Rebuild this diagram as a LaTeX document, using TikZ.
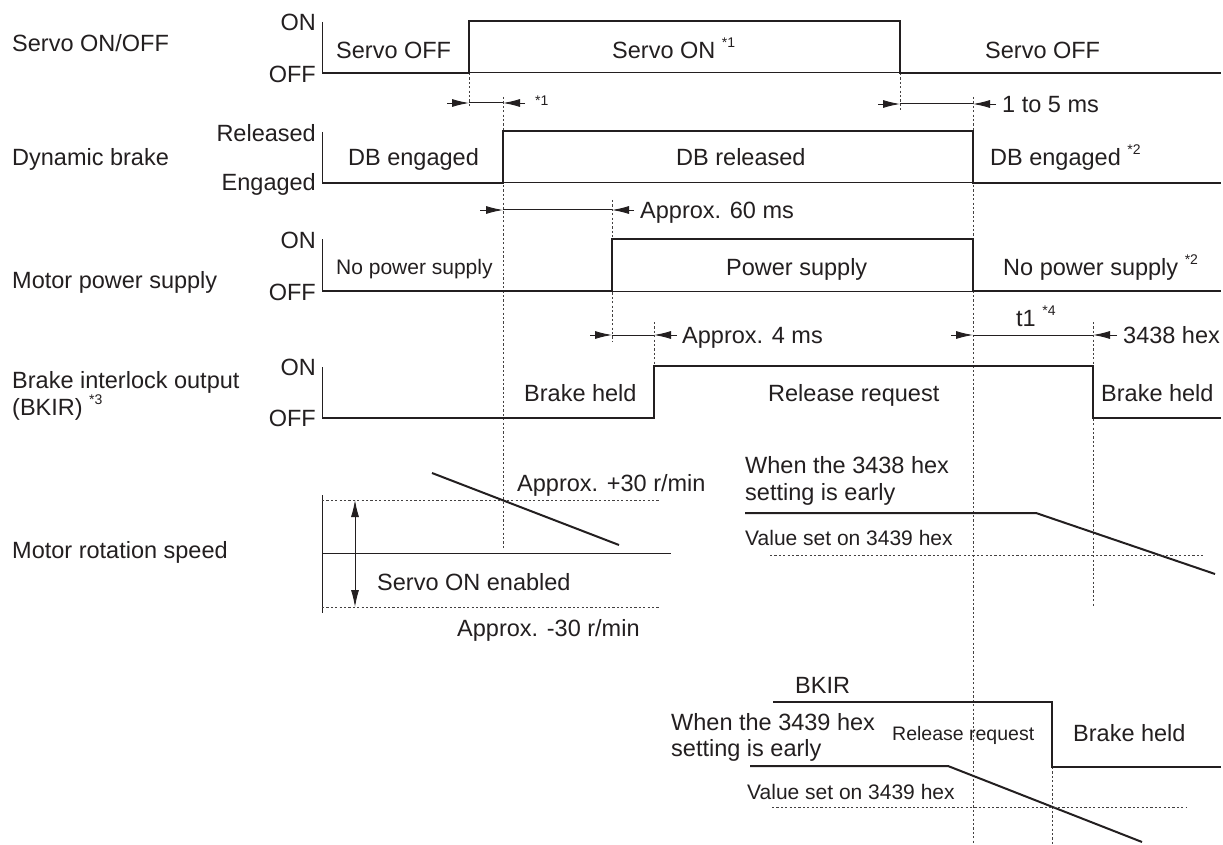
\documentclass[tikz,border=0pt]{standalone}
\usepackage{fontspec}
\setmainfont{Liberation Sans}
\usetikzlibrary{arrows.meta}
\definecolor{ink}{HTML}{231F20}
\newcommand\mfont{\fontsize{23.5}{28}\selectfont}
\newcommand\sfont{\fontsize{21}{25}\selectfont}
\newcommand\nfont{\fontsize{19.5}{24}\selectfont}
\newcommand\fnote[1]{\raisebox{11pt}{\fontsize{14}{14}\selectfont *#1}}
\begin{document}
\begin{tikzpicture}[x=1pt,y=-1pt,
  txt/.style={inner sep=0pt, text height=17pt, text depth=0pt, anchor=west, font=\mfont, text=ink},
  txtr/.style={txt, anchor=east},
  small/.style={txt, font=\sfont, text height=15pt},
  narrow/.style={txt, font=\nfont, text height=15pt},
  sig/.style={draw=ink, line width=2.4pt, line join=miter},
  thinl/.style={draw=ink, line width=1pt},
  guide/.style={draw=ink!85, line width=0.8pt, dash pattern=on 2.2pt off 2.2pt},
  dim/.style={draw=ink, line width=0.9pt, -{Latex[length=17pt,width=8pt]}},
  ramp/.style={draw=ink, line width=2pt},
  dbl/.style={draw=ink, line width=0.9pt, {Latex[length=17pt,width=8pt]}-{Latex[length=17pt,width=8pt]}}]
\useasboundingbox[fill=white] (0,0) rectangle (1223,845);

% ---------- guide lines (dotted) ----------
\draw[guide] (469,73) -- (469,108);
\draw[guide] (503,97) -- (503,548);
\draw[guide] (900,73) -- (900,110);
\draw[guide] (973,97) -- (973,845);
\draw[guide] (612,200) -- (612,342);
\draw[guide] (654,322) -- (654,366);
\draw[guide] (1093,322) -- (1093,607);
\draw[guide] (1052,767) -- (1052,845);

% ---------- left labels ----------
\node[txt] (lservo) at (12,43) {Servo ON/OFF};
\node[txt] (ldb) at (12,157) {Dynamic brake};
\node[txt] (lmp) at (12,280) {Motor power supply};
\node[txt] (lbk1) at (12,380) {Brake interlock output};
\node[txt] (lbk2) at (12,407) {(BKIR) \fnote{3}};
\node[txt] (lms) at (12,550) {Motor rotation speed};

% ---------- level labels ----------
\node[txtr] (on1) at (316,22) {ON};
\node[txtr] (off1) at (316,74) {OFF};
\node[txtr] (rel2) at (316,133) {Released};
\node[txtr] (eng2) at (316,182) {Engaged};
\node[txtr] (on3) at (316,240) {ON};
\node[txtr] (off3) at (316,292) {OFF};
\node[txtr] (on4) at (316,367) {ON};
\node[txtr] (off4) at (316,418) {OFF};

% ---------- axes & baselines ----------
\draw[thinl] (322,22) -- (322,73) -- (1221,73);
\draw[thinl] (322,132) -- (322,183) -- (1221,183);
\draw[thinl] (322,239) -- (322,291) -- (1221,291);
\draw[thinl] (322,367) -- (322,418);

% ---------- signals ----------
\draw[sig] (322,73) -- (469,73) -- (469,21) -- (900,21) -- (900,73) -- (1221,73);
\draw[sig] (322,183) -- (503,183) -- (503,131) -- (973,131) -- (973,183) -- (1221,183);
\draw[sig] (322,291) -- (612,291) -- (612,239) -- (973,239) -- (973,291) -- (1221,291);
\draw[sig] (322,418) -- (654,418) -- (654,366) -- (1093,366) -- (1093,418) -- (1221,418);

% ---------- state texts ----------
\node[txt] (s1a) at (336,50) {Servo OFF};
\node[txt] (s1b) at (612,50) {Servo ON \fnote{1}};
\node[txt] (s1c) at (985,50) {Servo OFF};
\node[txt] (s2a) at (348,157) {DB engaged};
\node[txt] (s2b) at (676,157) {DB released};
\node[txt] (s2c) at (990,157) {DB engaged \fnote{2}};
\node[small] (s3a) at (336,267) {No power supply};
\node[txt] (s3b) at (726,267) {Power supply};
\node[txt] (s3c) at (1003,267) {No power supply \fnote{2}};
\node[txt] (s4a) at (524,393) {Brake held};
\node[txt] (s4b) at (768,393) {Release request};
\node[txt] (s4c) at (1101,393) {Brake held};

% ---------- timing dimensions ----------
\draw[dim] (447,103) -- (469,103);
\draw[thinl] (469,103) -- (503,103);
\draw[dim] (525,103) -- (503,103);
\node[txt, font=\fontsize{14}{14}\selectfont, text height=10pt] (n1) at (535,101) {*1};

\draw[dim] (878,104) -- (900,104);
\draw[thinl] (900,104) -- (973,104);
\draw[dim] (996,104) -- (973,104);
\node[txt] (d1) at (1002,104) {1 to 5 ms};

\draw[dim] (480,210) -- (503,210);
\draw[thinl] (503,210) -- (612,210);
\draw[dim] (634,210) -- (612,210);
\node[txt] (d2) at (640,210) {Approx. 60 ms};

\draw[dim] (590,335) -- (612,335);
\draw[thinl] (612,335) -- (654,335);
\draw[dim] (677,335) -- (654,335);
\node[txt] (d3) at (682,335) {Approx. 4 ms};

\draw[dim] (951,335) -- (973,335);
\draw[thinl] (973,335) -- (1093,335);
\draw[dim] (1117,335) -- (1093,335);
\node[txt] (d4) at (1123,335) {3438 hex};
\node[txt] (t1) at (1016,318) {t1 \fnote{4}};

% ---------- motor rotation speed (left) ----------
\draw[thinl] (322,495) -- (322,613);
\draw[guide] (322,500) -- (660,500);
\draw[thinl] (322,553) -- (671,553);
\draw[guide] (322,607) -- (660,607);
\draw[dbl] (355,500) -- (355,607);
\draw[ramp] (432,473) -- (619,545);
\node[txt] (sp1) at (517,483) {Approx. +30 r/min};
\node[txt] (sp2) at (377,582) {Servo ON enabled};
\node[txt] (sp3) at (457,628) {Approx. -30 r/min};

% ---------- motor rotation speed (right) ----------
\node[txt] (w1) at (745,465) {When the 3438 hex};
\node[txt] (w2) at (745,492) {setting is early};
\draw[ramp] (745,513) -- (1036,513) -- (1215,574);
\node[small] (v1) at (745,538) {Value set on 3439 hex};
\draw[guide] (770,555) -- (1203,555);

% ---------- bottom case ----------
\node[txt] (bk) at (795,685) {BKIR};
\draw[sig] (773,702) -- (1052,702) -- (1052,767) -- (1221,767);
\node[txt] (w3) at (671,722) {When the 3439 hex};
\node[txt] (w4) at (671,748) {setting is early};
\node[narrow] (rr) at (892,733) {Release request};
\node[txt] (bh) at (1073,733) {Brake held};
\draw[ramp] (750,766) -- (948,766) -- (1142,842);
\node[small] (v2) at (747,792) {Value set on 3439 hex};
\draw[guide] (772,807) -- (1186,807);
\end{tikzpicture}
\end{document}
